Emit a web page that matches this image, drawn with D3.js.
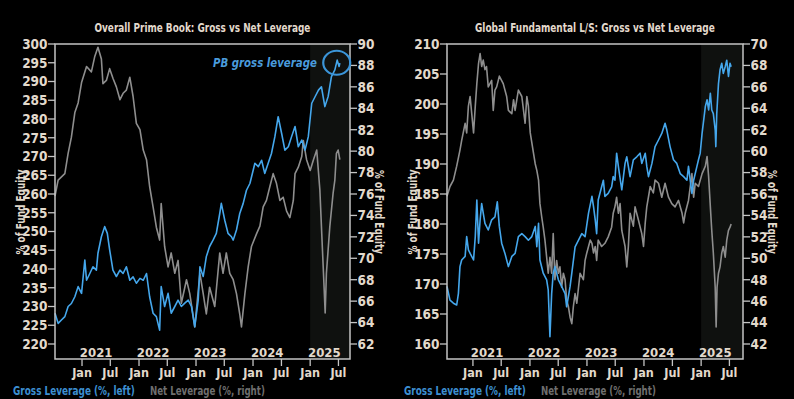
<!DOCTYPE html>
<html><head><meta charset="utf-8">
<script src="https://cdn.jsdelivr.net/npm/d3@7"></script>
<style>
html,body{margin:0;padding:0;background:#000;}
svg{display:block;}
text{font-family:"Liberation Sans Narrow","DejaVu Sans Condensed","Roboto",sans-serif;font-weight:bold;}
</style></head>
<body><svg id="c" width="794" height="399"></svg>
<script>
// ---------------- DATA ----------------
const leftTitle = "Overall Prime Book: Gross vs Net Leverage";
const rightTitle = "Global Fundamental L/S: Gross vs Net Leverage";
const legendGross = "Gross Leverage (%, left)";
const legendNet = "Net Leverage (%, right)";
const axisTitle = "% of Fund Equity";
const annotation = "PB gross leverage";
const yearLabels = [2021, 2022, 2023, 2024, 2025];
const monthTicks = ["2021-01-01","2021-07-01","2022-01-01","2022-07-01","2023-01-01","2023-07-01","2024-01-01","2024-07-01","2025-01-01","2025-07-01"];
const leftGrossTicks = [220,225,230,235,240,245,250,255,260,265,270,275,280,285,290,295,300];
const leftNetTicks = [62,64,66,68,70,72,74,76,78,80,82,84,86,88,90];
const rightGrossTicks = [160,165,170,175,180,185,190,195,200,205,210];
const rightNetTicks = [42,44,46,48,50,52,54,56,58,60,62,64,66,68,70];

const leftGross = [["2020-07-12",228.2],["2020-08-01",225.5],["2020-08-22",226.4],["2020-09-13",227.3],["2020-10-04",230.0],["2020-10-25",230.8],["2020-11-16",232.6],["2020-12-07",235.3],["2020-12-29",233.5],["2021-01-19",242.4],["2021-01-30",237.0],["2021-02-20",238.8],["2021-03-12",240.6],["2021-04-03",239.7],["2021-04-13",244.2],["2021-05-05",248.6],["2021-05-26",251.3],["2021-06-12",249.5],["2021-06-27",245.1],["2021-07-18",239.7],["2021-08-09",238.0],["2021-09-01",239.7],["2021-09-21",238.8],["2021-10-12",240.6],["2021-11-03",237.0],["2021-11-24",237.9],["2021-12-15",236.2],["2022-01-07",237.5],["2022-01-28",237.0],["2022-02-18",238.8],["2022-03-10",232.6],["2022-04-01",228.2],["2022-04-22",227.3],["2022-05-13",223.7],["2022-05-23",235.3],["2022-06-14",230.0],["2022-07-06",233.5],["2022-07-26",228.2],["2022-08-18",230.0],["2022-09-08",231.7],["2022-09-29",230.0],["2022-10-21",230.9],["2022-11-12",231.7],["2022-12-03",230.0],["2022-12-24",224.6],["2023-01-15",231.7],["2023-01-26",240.6],["2023-02-16",238.0],["2023-03-08",243.3],["2023-03-29",246.0],["2023-04-20",247.7],["2023-05-11",249.5],["2023-06-02",254.8],["2023-06-12",257.5],["2023-07-04",253.0],["2023-07-25",249.5],["2023-08-16",248.6],["2023-08-27",247.7],["2023-09-17",250.4],["2023-10-08",254.8],["2023-10-30",257.5],["2023-11-20",261.0],["2023-12-12",262.8],["2024-01-13",268.2],["2024-02-04",267.3],["2024-02-25",269.0],["2024-03-16",265.5],["2024-04-07",268.2],["2024-04-28",270.8],["2024-05-20",275.3],["2024-06-10",280.6],["2024-07-02",276.2],["2024-07-23",271.7],["2024-08-14",272.6],["2024-09-04",275.3],["2024-09-26",278.0],["2024-10-17",272.6],["2024-11-08",274.4],["2024-11-29",271.7],["2024-12-20",275.3],["2025-01-11",284.2],["2025-02-02",286.0],["2025-02-23",287.7],["2025-03-14",288.6],["2025-04-05",283.3],["2025-04-26",286.0],["2025-05-17",291.3],["2025-06-08",293.1],["2025-06-23",295.7],["2025-07-05",294.0],["2025-07-10",294.9]];

const leftNet = [["2020-07-12",75.8],["2020-08-01",77.3],["2020-09-13",77.9],["2020-10-04",79.8],["2020-10-25",81.3],["2020-11-16",83.6],["2020-12-07",84.5],["2020-12-29",86.4],["2021-01-30",87.9],["2021-03-02",87.4],["2021-03-23",88.8],["2021-04-13",89.7],["2021-05-05",88.6],["2021-05-15",86.3],["2021-06-06",86.6],["2021-06-27",87.7],["2021-07-18",86.8],["2021-08-09",86.0],["2021-09-01",84.8],["2021-09-21",85.4],["2021-10-12",85.7],["2021-11-03",86.9],["2021-11-24",85.1],["2021-12-15",82.6],["2022-01-07",82.0],["2022-01-28",80.1],["2022-02-18",79.2],["2022-03-10",76.7],["2022-04-01",74.8],["2022-04-22",72.9],["2022-05-13",71.7],["2022-05-23",75.1],["2022-06-14",71.1],["2022-07-06",69.2],["2022-07-26",70.5],["2022-08-18",68.6],["2022-09-08",69.8],["2022-09-29",65.8],["2022-11-01",68.0],["2022-11-22",66.7],["2022-12-24",63.6],["2023-01-26",68.6],["2023-02-16",66.7],["2023-03-08",64.8],["2023-03-29",67.3],["2023-05-01",65.5],["2023-06-02",70.5],["2023-06-23",68.6],["2023-07-14",70.5],["2023-08-05",68.6],["2023-08-27",68.0],["2023-09-17",66.7],["2023-10-08",64.8],["2023-10-19",63.6],["2023-11-10",66.7],["2023-12-01",69.2],["2023-12-22",71.1],["2024-01-24",72.3],["2024-02-14",73.0],["2024-03-06",74.8],["2024-03-27",75.4],["2024-04-18",76.7],["2024-05-09",77.9],["2024-05-30",77.0],["2024-06-21",75.4],["2024-07-12",75.7],["2024-08-03",74.4],["2024-08-24",73.8],["2024-09-15",75.4],["2024-09-26",77.9],["2024-10-17",78.5],["2024-11-08",79.5],["2024-11-18",81.0],["2024-12-09",79.2],["2025-01-01",78.2],["2025-01-22",79.2],["2025-02-12",80.1],["2025-03-04",76.4],["2025-03-14",73.0],["2025-03-29",68.0],["2025-04-07",64.9],["2025-04-15",68.6],["2025-05-07",73.0],["2025-05-28",76.1],["2025-06-08",77.3],["2025-06-18",79.8],["2025-06-29",80.1],["2025-07-10",79.2]];

const rightGross = [["2020-07-19",169.6],["2020-08-07",167.3],["2020-08-29",166.8],["2020-09-19",166.5],["2020-09-30",168.4],["2020-10-10",172.9],["2020-10-21",174.0],["2020-11-12",174.6],["2020-11-22",177.9],["2020-12-03",175.7],["2020-12-14",175.1],["2021-01-05",174.0],["2021-01-16",177.9],["2021-01-26",184.0],["2021-02-06",176.8],["2021-02-16",180.7],["2021-02-26",183.4],["2021-03-08",181.8],["2021-03-19",180.1],["2021-04-09",179.0],["2021-05-01",180.7],["2021-05-22",181.2],["2021-06-06",183.7],["2021-06-19",179.6],["2021-07-04",176.8],["2021-07-25",175.1],["2021-08-16",172.9],["2021-09-07",174.6],["2021-09-28",175.1],["2021-10-19",177.9],["2021-11-10",178.4],["2021-12-01",177.9],["2021-12-22",177.3],["2022-01-13",177.9],["2022-02-04",179.6],["2022-02-14",176.2],["2022-02-25",180.1],["2022-03-06",174.0],["2022-03-27",171.8],["2022-04-18",170.7],["2022-04-28",169.0],["2022-05-09",161.2],["2022-05-20",168.4],["2022-05-30",171.8],["2022-06-10",172.9],["2022-07-02",170.7],["2022-07-23",169.6],["2022-08-14",168.4],["2022-08-24",166.2],["2022-09-15",169.6],["2022-09-26",171.8],["2022-10-17",176.2],["2022-11-08",177.3],["2022-11-29",178.4],["2022-12-20",177.9],["2023-01-11",181.8],["2023-02-02",184.6],["2023-02-12",182.9],["2023-02-23",180.7],["2023-03-04",178.4],["2023-03-14",184.0],["2023-04-05",186.2],["2023-04-16",187.3],["2023-04-26",184.6],["2023-05-17",185.1],["2023-06-08",186.2],["2023-06-18",187.9],["2023-06-29",187.3],["2023-07-10",191.8],["2023-07-21",189.6],["2023-08-12",185.7],["2023-09-02",190.1],["2023-09-13",191.2],["2023-10-04",187.9],["2023-10-25",190.7],["2023-11-16",191.2],["2023-12-07",191.8],["2023-12-18",190.1],["2024-01-09",191.8],["2024-01-19",189.6],["2024-01-30",187.9],["2024-02-21",190.1],["2024-03-12",192.9],["2024-04-03",194.0],["2024-04-24",195.1],["2024-05-15",196.8],["2024-05-26",195.7],["2024-06-16",192.9],["2024-07-08",190.7],["2024-07-29",190.1],["2024-08-20",188.4],["2024-09-11",187.9],["2024-10-02",187.3],["2024-10-12",189.6],["2024-11-03",185.1],["2024-11-14",187.3],["2024-12-05",189.6],["2024-12-15",190.7],["2024-12-26",191.8],["2025-01-07",195.1],["2025-01-28",199.6],["2025-02-08",200.7],["2025-02-18",199.0],["2025-03-01",201.8],["2025-03-10",199.0],["2025-03-20",198.4],["2025-04-01",195.7],["2025-04-05",192.9],["2025-04-11",198.4],["2025-04-22",203.4],["2025-05-02",205.7],["2025-05-13",206.8],["2025-05-23",205.1],["2025-06-04",206.2],["2025-06-14",207.3],["2025-06-25",204.6],["2025-07-05",206.8],["2025-07-12",206.2]];

const rightNet = [["2020-07-19",55.8],["2020-08-07",56.7],["2020-08-29",57.3],["2020-09-19",58.6],["2020-10-10",60.1],["2020-10-21",61.0],["2020-11-12",62.6],["2020-11-22",61.7],["2020-12-03",64.2],["2020-12-14",65.1],["2021-01-05",61.7],["2021-01-16",64.2],["2021-01-26",66.3],["2021-02-06",68.2],["2021-02-16",69.1],["2021-02-26",67.9],["2021-03-08",68.5],["2021-03-19",67.6],["2021-03-29",67.9],["2021-04-09",66.0],["2021-04-20",66.3],["2021-05-01",66.6],["2021-05-11",63.8],["2021-05-22",65.7],["2021-06-02",66.0],["2021-06-19",67.0],["2021-07-14",66.3],["2021-08-05",65.1],["2021-08-16",63.8],["2021-09-07",63.5],["2021-09-18",64.8],["2021-09-28",63.8],["2021-10-09",64.8],["2021-10-19",65.7],["2021-11-10",65.1],["2021-12-01",62.6],["2021-12-12",65.1],["2021-12-22",64.2],["2022-01-03",61.7],["2022-01-24",59.8],["2022-02-04",58.8],["2022-02-14",58.2],["2022-02-25",57.3],["2022-03-06",55.1],["2022-03-17",53.9],["2022-03-27",52.9],["2022-04-07",51.7],["2022-04-18",50.1],["2022-04-28",48.6],["2022-05-09",50.1],["2022-05-20",48.6],["2022-05-30",52.3],["2022-06-10",48.0],["2022-06-21",49.8],["2022-07-02",48.6],["2022-07-12",49.2],["2022-07-23",47.3],["2022-08-03",48.6],["2022-08-14",48.0],["2022-08-24",46.1],["2022-09-04",45.5],["2022-09-15",44.5],["2022-09-26",43.9],["2022-10-06",45.5],["2022-10-17",46.7],["2022-10-28",45.8],["2022-11-08",47.3],["2022-11-18",48.6],["2022-12-09",48.0],["2022-12-20",49.8],["2022-12-31",50.5],["2023-01-11",51.1],["2023-01-22",51.7],["2023-02-02",51.4],["2023-02-12",50.5],["2023-02-23",51.1],["2023-03-04",49.8],["2023-03-14",51.7],["2023-04-05",51.1],["2023-04-26",51.4],["2023-05-17",52.0],["2023-06-08",52.9],["2023-06-18",54.2],["2023-06-29",54.8],["2023-07-10",55.7],["2023-07-21",54.2],["2023-08-01",55.1],["2023-08-12",52.6],["2023-09-02",51.1],["2023-09-13",49.2],["2023-09-23",51.1],["2023-10-04",54.2],["2023-10-25",53.0],["2023-11-05",54.8],["2023-11-26",53.6],["2023-12-18",52.3],["2023-12-29",51.1],["2024-01-09",53.3],["2024-01-19",54.8],["2024-02-10",56.7],["2024-03-01",56.1],["2024-03-12",57.3],["2024-04-03",57.0],["2024-04-24",55.7],["2024-05-15",57.0],["2024-06-06",55.7],["2024-06-27",55.1],["2024-07-18",54.8],["2024-08-09",55.4],["2024-09-01",54.2],["2024-09-11",53.3],["2024-09-21",54.2],["2024-10-12",55.4],["2024-11-03",57.9],["2024-11-14",55.7],["2024-11-24",57.0],["2024-12-15",56.7],["2025-01-07",57.9],["2025-01-28",58.6],["2025-02-08",59.5],["2025-02-18",57.6],["2025-03-01",54.8],["2025-03-10",52.6],["2025-03-20",50.5],["2025-04-01",47.3],["2025-04-07",43.6],["2025-04-13",47.3],["2025-04-22",48.6],["2025-05-02",49.2],["2025-05-13",50.5],["2025-05-23",51.1],["2025-06-04",50.1],["2025-06-14",51.7],["2025-06-25",52.6],["2025-07-05",52.9],["2025-07-12",53.2]];

// ---------------- DRAWING ----------------
const parse = d3.timeParse("%Y-%m-%d");
const svg = d3.select("#c");
const BLUE = "#45a7ec", GRAY = "#8e8e8e", TXT = "#e2d9cc", AX = "#c4c4c4";

// Text squeezed horizontally to a target width with a real transform (keeps bbox honest)
function fitText(parent, str, x, y, width, size, fill, anchor, italic) {
  const t = parent.append("text").attr("font-size", size).attr("fill", fill).text(str);
  if (italic) t.attr("font-style", "italic");
  const nat = t.node().getComputedTextLength();
  const k = Math.min(1, width / nat);
  const left = anchor === "middle" ? x - width / 2 : x;
  t.attr("transform", `translate(${left},${y}) scale(${k},1)`);
  return t;
}

function panel(cfg) {
  const x = d3.scaleTime().domain(cfg.xDomain.map(parse)).range([cfg.x0, cfg.x1]);
  const yG = d3.scaleLinear().domain(cfg.gDomain).range([cfg.yB, cfg.yT]);
  const yN = d3.scaleLinear().domain(cfg.nDomain).range([cfg.yB, cfg.yT]);
  const g = svg.append("g");

  // shaded 2025 region
  const s0 = x(parse("2025-01-01"));
  g.append("rect").attr("x", s0).attr("y", cfg.yT).attr("width", cfg.x1 - s0).attr("height", cfg.yB - cfg.yT).attr("fill", "#0f110f");

  // lines
  const lineN = d3.line().x(d => x(parse(d[0]))).y(d => yN(d[1]));
  const lineG = d3.line().x(d => x(parse(d[0]))).y(d => yG(d[1]));
  g.append("path").datum(cfg.net).attr("d", lineN).attr("fill", "none").attr("stroke", GRAY).attr("stroke-width", 1.6).attr("stroke-linejoin", "round");
  g.append("path").datum(cfg.gross).attr("d", lineG).attr("fill", "none").attr("stroke", BLUE).attr("stroke-width", 1.6).attr("stroke-linejoin", "round");

  // frame
  g.append("rect").attr("x", cfg.x0).attr("y", cfg.yT).attr("width", cfg.x1 - cfg.x0).attr("height", cfg.yB - cfg.yT)
    .attr("fill", "none").attr("stroke", AX).attr("stroke-width", 1.5);

  // left axis
  cfg.gTicks.forEach(v => {
    const yy = yG(v);
    g.append("line").attr("x1", cfg.x0 - 7).attr("x2", cfg.x0).attr("y1", yy).attr("y2", yy).attr("stroke", AX).attr("stroke-width", 1.3);
    g.append("text").attr("x", cfg.x0 - 7.5).attr("y", yy + 4.8).attr("text-anchor", "end").attr("fill", TXT).attr("font-size", 13.5).text(v);
  });
  // right axis
  cfg.nTicks.forEach(v => {
    const yy = yN(v);
    g.append("line").attr("x1", cfg.x1).attr("x2", cfg.x1 + 7).attr("y1", yy).attr("y2", yy).attr("stroke", AX).attr("stroke-width", 1.3);
    g.append("text").attr("x", cfg.x1 + 7.5).attr("y", yy + 4.8).attr("text-anchor", "start").attr("fill", TXT).attr("font-size", 13.5).text(v);
  });
  // x ticks
  monthTicks.forEach(s => {
    const d = parse(s), xx = x(d);
    g.append("line").attr("x1", xx).attr("x2", xx).attr("y1", cfg.yB).attr("y2", cfg.yB + 7).attr("stroke", AX).attr("stroke-width", 1.3);
    g.append("text").attr("x", xx).attr("y", cfg.yB + 17.5).attr("text-anchor", "middle").attr("fill", TXT).attr("font-size", 12.5).text(d3.timeFormat("%b")(d));
  });
  yearLabels.forEach(yr => {
    const xx = (x(new Date(yr, 0, 1)) + x(new Date(yr, 6, 1))) / 2;
    g.append("text").attr("x", xx).attr("y", cfg.yB - 2.5).attr("text-anchor", "middle").attr("fill", TXT).attr("font-size", 13).text(yr);
  });
  // axis titles
  g.append("text").attr("transform", `translate(${cfg.x0 - 30},212) rotate(-90)`).attr("text-anchor", "middle")
    .attr("fill", TXT).attr("font-size", 11.5).attr("textLength", 85).attr("lengthAdjust", "spacingAndGlyphs").text(axisTitle);
  g.append("text").attr("transform", `translate(${cfg.x1 + 25},212) rotate(90)`).attr("text-anchor", "middle")
    .attr("fill", TXT).attr("font-size", 11.5).attr("textLength", 84).attr("lengthAdjust", "spacingAndGlyphs").text(axisTitle);
  // title
  fitText(g, cfg.title, (cfg.x0 + cfg.x1) / 2, 32, cfg.titleW, 13, TXT, "middle");
  // legend
  fitText(g, legendGross, cfg.legX, 395, 122, 12.5, "#3d8fd1", "start");
  fitText(g, legendNet, cfg.legX + 137, 395, 115, 12.5, "#6f6f6f", "start");
  return {x, yG, yN, g};
}

const L = panel({x0: 55, x1: 350, yT: 44, yB: 359, xDomain: ["2020-07-12", "2025-09-13"], gDomain: [216, 300], nDomain: [60.6, 90],
  gTicks: leftGrossTicks, nTicks: leftNetTicks, gross: leftGross, net: leftNet, title: leftTitle, titleW: 216, legX: 13});
const R = panel({x0: 447, x1: 743, yT: 44, yB: 359, xDomain: ["2020-07-19", "2025-09-26"], gDomain: [157.5, 210], nDomain: [40.6, 70],
  gTicks: rightGrossTicks, nTicks: rightNetTicks, gross: rightGross, net: rightNet, title: rightTitle, titleW: 240, legX: 404});

// annotation
fitText(L.g, annotation, 213, 67, 104, 13, "#4a9bdc", "start", true);
L.g.append("ellipse").attr("cx", L.x(parse("2025-06-20"))).attr("cy", L.yG(295)).attr("rx", 13.5).attr("ry", 12)
  .attr("fill", "none").attr("stroke", "#3b95d8").attr("stroke-width", 2.2);
</script></body></html>
